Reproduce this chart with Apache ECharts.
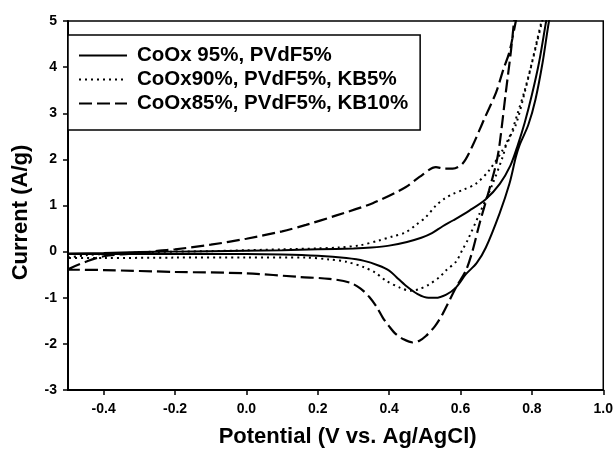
<!DOCTYPE html>
<html>
<head>
<meta charset="utf-8">
<script src="https://cdn.jsdelivr.net/npm/echarts@6/dist/echarts.min.js"></script>
<style>
  html, body { margin: 0; padding: 0; background: #fff; }
  #chart { width: 616px; height: 453px; }
</style>
</head>
<body>
<div id="chart"></div>
<script>
// 曲线数据 [电位 V, 电流 A/g]，先正扫再回扫
var seriesNames = ["CoOx 95%, PVdF5%", "CoOx90%, PVdF5%, KB5%", "CoOx85%, PVdF5%, KB10%"];

var kb0 = [
  [-0.5, -0.04], [-0.4, -0.03], [-0.3, -0.01], [-0.2, 0.0], [-0.1, 0.01], [0.0, 0.02],
  [0.1, 0.03], [0.2, 0.05], [0.3, 0.07], [0.35, 0.09], [0.4, 0.13], [0.45, 0.21],
  [0.49, 0.3], [0.52, 0.4], [0.55, 0.55], [0.58, 0.68], [0.625, 0.89], [0.67, 1.13],
  [0.71, 1.47], [0.74, 1.87], [0.76, 2.3], [0.78, 2.8], [0.8, 3.4], [0.82, 4.1],
  [0.84, 5.0], [0.845, 5.2],
  [0.855, 5.2], [0.848, 5.0], [0.83, 4.1], [0.81, 3.3], [0.79, 2.75], [0.765, 2.3],
  [0.755, 2.05], [0.737, 1.47], [0.709, 0.82], [0.671, 0.09], [0.645, -0.25],
  [0.615, -0.49], [0.587, -0.78], [0.56, -0.93], [0.53, -1.0], [0.51, -1.0],
  [0.48, -0.92], [0.447, -0.74], [0.42, -0.55], [0.4, -0.41], [0.37, -0.3],
  [0.33, -0.2], [0.28, -0.14], [0.2, -0.09], [0.1, -0.06], [0.0, -0.05],
  [-0.2, -0.05], [-0.4, -0.05], [-0.5, -0.05]
];

var kb5 = [
  [-0.5, -0.13], [-0.45, -0.08], [-0.4, -0.05], [-0.3, -0.02], [-0.2, 0.0], [-0.1, 0.01],
  [0.0, 0.03], [0.1, 0.05], [0.2, 0.07], [0.26, 0.09], [0.32, 0.14], [0.37, 0.24],
  [0.41, 0.33], [0.447, 0.42], [0.475, 0.58], [0.503, 0.75], [0.531, 1.0], [0.555, 1.15],
  [0.578, 1.25], [0.61, 1.35], [0.643, 1.47], [0.68, 1.76], [0.718, 2.2], [0.737, 2.45],
  [0.76, 3.0], [0.78, 3.5], [0.8, 4.1], [0.815, 4.6], [0.827, 5.0], [0.832, 5.2],
  [0.836, 5.2], [0.829, 5.0], [0.81, 4.4], [0.78, 3.46], [0.755, 2.75], [0.732, 2.41],
  [0.718, 2.05], [0.69, 1.47], [0.653, 0.82], [0.62, 0.25], [0.606, 0.05], [0.587, -0.22],
  [0.559, -0.41], [0.54, -0.56], [0.51, -0.72], [0.485, -0.81], [0.46, -0.85],
  [0.43, -0.78], [0.391, -0.63], [0.36, -0.45], [0.33, -0.34], [0.28, -0.22],
  [0.232, -0.17], [0.167, -0.13], [0.0, -0.13], [-0.2, -0.13], [-0.4, -0.14], [-0.5, -0.14]
];

var kb10 = [
  [-0.5, -0.38], [-0.45, -0.22], [-0.4, -0.1], [-0.3, -0.03], [-0.244, 0.02], [-0.2, 0.05],
  [-0.1, 0.15], [0.0, 0.28], [0.1, 0.44], [0.167, 0.58], [0.25, 0.78], [0.354, 1.05],
  [0.447, 1.4], [0.485, 1.62], [0.531, 1.83], [0.555, 1.8], [0.578, 1.8], [0.606, 1.91],
  [0.634, 2.3], [0.665, 2.85], [0.7, 3.46], [0.72, 3.95], [0.737, 4.33], [0.755, 5.0],
  [0.76, 5.2],
  [0.752, 5.2], [0.75, 5.0], [0.741, 4.33], [0.727, 3.46], [0.709, 2.3], [0.7, 1.91],
  [0.68, 1.33], [0.653, 0.6], [0.633, 0.0], [0.615, -0.41], [0.587, -0.78], [0.55, -1.35],
  [0.528, -1.62], [0.503, -1.83], [0.485, -1.93], [0.466, -1.97], [0.44, -1.9],
  [0.419, -1.79], [0.4, -1.62], [0.382, -1.43], [0.365, -1.2], [0.345, -0.99],
  [0.32, -0.8], [0.289, -0.67], [0.232, -0.59], [0.15, -0.55], [0.0, -0.47],
  [-0.2, -0.44], [-0.4, -0.4], [-0.5, -0.39]
];

var xTicks = [-0.4, -0.2, 0.0, 0.2, 0.4, 0.6, 0.8, 1.0];

var font = "Liberation Sans, Arial, sans-serif";

var chart = echarts.init(document.getElementById("chart"));

var option = {
  animation: false,
  backgroundColor: "#fff",
  color: ["#000", "#000", "#000"],
  grid: {
    left: 68,
    right: 12,
    top: 21,
    bottom: 63,
    show: true,
    borderColor: "#000",
    borderWidth: 1.5
  },
  legend: {
    data: seriesNames,
    orient: "vertical",
    left: 68,
    top: 35,
    padding: [10, 12, 16, 10],
    itemWidth: 48,
    itemHeight: 14,
    itemGap: 3,
    itemStyle: { opacity: 0 },
    backgroundColor: "#fff",
    borderColor: "#000",
    borderWidth: 1.5,
    borderRadius: 0,
    textStyle: {
      color: "#000",
      fontFamily: font,
      fontWeight: "bold",
      fontSize: 20.5,
      lineHeight: 20,
      padding: [0, 0, 0, 5]
    }
  },
  xAxis: {
    type: "value",
    min: -0.5,
    max: 1.0,
    name: "Potential (V vs. Ag/AgCl)",
    nameLocation: "middle",
    nameGap: 36,
    nameTextStyle: {
      color: "#000",
      fontFamily: font,
      fontWeight: "bold",
      fontSize: 22,
      padding: [0, 0, 0, 24]
    },
    axisLine: { show: true, onZero: false, lineStyle: { color: "#000", width: 2 } },
    axisTick: { show: true, inside: false, length: 5, customValues: xTicks, lineStyle: { color: "#000", width: 1.5 } },
    axisLabel: {
      customValues: xTicks,
      margin: 12,
      color: "#000",
      fontFamily: font,
      fontWeight: "bold",
      fontSize: 14,
      formatter: function (v) { return v.toFixed(1); }
    },
    splitLine: { show: false }
  },
  yAxis: {
    type: "value",
    min: -3,
    max: 5,
    interval: 1,
    name: "Current (A/g)",
    nameLocation: "middle",
    nameGap: 36,
    nameTextStyle: {
      color: "#000",
      fontFamily: font,
      fontWeight: "bold",
      fontSize: 22,
      padding: [0, 14, 0, 0]
    },
    axisLine: { show: true, onZero: false, lineStyle: { color: "#000", width: 2 } },
    axisTick: { show: true, inside: false, length: 5, lineStyle: { color: "#000", width: 1.5 } },
    axisLabel: {
      margin: 11,
      color: "#000",
      fontFamily: font,
      fontWeight: "bold",
      fontSize: 14
    },
    splitLine: { show: false }
  },
  series: [
    {
      name: seriesNames[0],
      type: "line",
      data: kb0,
      symbol: "none",
      smooth: 0.3,
      clip: true,
      lineStyle: { color: "#000", width: 2, type: "solid" }
    },
    {
      name: seriesNames[1],
      type: "line",
      data: kb5,
      symbol: "none",
      smooth: 0.3,
      clip: true,
      lineStyle: { color: "#000", width: 2, type: [2, 4] }
    },
    {
      name: seriesNames[2],
      type: "line",
      data: kb10,
      symbol: "none",
      smooth: 0.3,
      clip: true,
      lineStyle: { color: "#000", width: 2.2, type: [13, 5] }
    }
  ]
};

chart.setOption(option);
</script>
</body>
</html>
